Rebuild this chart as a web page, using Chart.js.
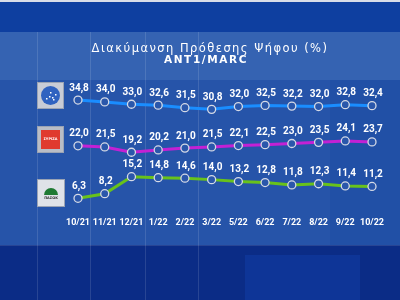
<!DOCTYPE html>
<html>
<head>
<meta charset="utf-8">
<script src="https://cdn.jsdelivr.net/npm/chart.js@4"></script>
<style>
html,body{margin:0;padding:0;background:#2554aa;}
#wrap{width:400px;height:300px;position:relative;}
</style>
</head>
<body>
<div id="wrap"><canvas id="c" width="400" height="300"></canvas></div>
<script>
const months = ['10/21','11/21','12/21','1/22','2/22','3/22','5/22','6/22','7/22','8/22','9/22','10/22'];
const seriesBlue = [34.8,34.0,33.0,32.6,31.5,30.8,32.0,32.5,32.2,32.0,32.8,32.4];
const seriesPurple = [22.0,21.5,19.2,20.2,21.0,21.5,22.1,22.5,23.0,23.5,24.1,23.7];
const seriesGreen = [6.3,8.2,15.2,14.8,14.6,14.0,13.2,12.8,11.8,12.3,11.4,11.2];
const titleText = 'Διακύμανση Πρόθεσης Ψήφου (%)';
const subtitleText = 'ANT1/MARC';

const bgPlugin = {
  id: 'bg',
  beforeDraw(chart) {
    const ctx = chart.ctx;
    ctx.save();
    ctx.fillStyle = '#0e3fa0'; ctx.fillRect(0,0,400,32);
    ctx.fillStyle = '#d8dde8'; ctx.fillRect(0,0,400,2);
    ctx.fillStyle = '#3563b2'; ctx.fillRect(0,32,400,48);
    ctx.fillStyle = '#2654a9'; ctx.fillRect(0,80,400,165);
    ctx.fillStyle = '#2150a6'; ctx.fillRect(330,80,70,165);
    ctx.fillStyle = '#0b2c86'; ctx.fillRect(0,245,400,55);
    ctx.fillStyle = '#0e3597'; ctx.fillRect(245,255,115,45);
    ctx.strokeStyle = 'rgba(255,255,255,0.12)'; ctx.lineWidth = 1;
    [37.5,90.5,145.5,198.5].forEach(x=>{ctx.beginPath();ctx.moveTo(x,32);ctx.lineTo(x,300);ctx.stroke();});
    ctx.beginPath();ctx.moveTo(0,245.5);ctx.lineTo(400,245.5);ctx.stroke();
    // logos (decorative)
    const box = (x,y,w,h,fill)=>{ctx.fillStyle='#9aa3b4';ctx.fillRect(x-1,y-1,w+2,h+2);ctx.fillStyle=fill;ctx.fillRect(x,y,w,h);};
    box(38,83,25,25,'#c8ccd6');
    ctx.fillStyle='#2f62c0';ctx.beginPath();ctx.arc(50.5,95.5,9.5,0,Math.PI*2);ctx.fill();
    ctx.fillStyle='#ffffff';[[46,98],[49,96],[52,97],[55,94],[50,92],[53,99]].forEach(p=>ctx.fillRect(p[0],p[1],1.5,1.5));
    box(38,127,25,25,'#b9bdc6');
    ctx.fillStyle='#e03a2e';ctx.fillRect(41,130,19,19);
    ctx.fillStyle='#ffffff';ctx.font='bold 3.5px "DejaVu Sans"';ctx.textAlign='center';ctx.textBaseline='middle';ctx.fillText('ΣΥΡΙΖΑ',50.5,139);
    box(38,180,26,26,'#dfe2e8');
    ctx.fillStyle='#1f7a33';ctx.beginPath();ctx.arc(51,195,7,Math.PI,0);ctx.fill();
    ctx.fillStyle='#2a2a2a';ctx.font='bold 3.5px "DejaVu Sans"';ctx.fillText('ΠΑΣΟΚ',51,198);
    // title lines
    ctx.fillStyle = '#ffffff';
    ctx.textAlign = 'center';
    ctx.textBaseline = 'middle';
    ctx.font = '11.5px "DejaVu Sans"';
    ctx.letterSpacing = '1.45px';
    ctx.fillText(titleText, 210, 49);
    ctx.font = 'bold 10.5px "DejaVu Sans"';
    ctx.letterSpacing = '1.6px';
    ctx.fillText(subtitleText, 206, 60.5);
    ctx.letterSpacing = '0px';
    ctx.restore();
  },
  afterDatasetsDraw(chart) {
    const ctx = chart.ctx;
    ctx.save();
    ctx.fillStyle = '#ffffff';
    ctx.font = 'bold 10px Roboto';
    ctx.textAlign = 'center';
    ctx.textBaseline = 'middle';
    chart.data.datasets.forEach((ds, i) => {
      const meta = chart.getDatasetMeta(i);
      meta.data.forEach((pt, j) => {
        ctx.fillText(ds.data[j].toFixed(1).replace('.', ','), pt.x + 1, pt.y - 12);
      });
    });
    ctx.restore();
  }
};

const common = {
  borderWidth: 3,
  pointRadius: 4,
  pointBorderWidth: 1.3,
  pointBorderColor: '#d5dae6',
  pointBackgroundColor: '#2a57ab',
  tension: 0,
  clip: false
};

new Chart(document.getElementById('c'), {
  type: 'line',
  data: {
    labels: months,
    datasets: [
      Object.assign({label:'A', data: seriesBlue, borderColor:'#1a8dff', yAxisID:'yBlue'}, common),
      Object.assign({label:'B', data: seriesPurple, borderColor:'#c321d4', yAxisID:'yPurple'}, common),
      Object.assign({label:'C', data: seriesGreen, borderColor:'#68c21b', yAxisID:'yGreen'}, common)
    ]
  },
  options: {
    responsive: false,
    animation: false,
    events: [],
    layout: { padding: { left: 46, right: 28, top: 80, bottom: 63 } },
    plugins: {
      legend: { display: false },
      tooltip: { enabled: false },
      title: { display: false }
    },
    scales: {
      x: {
        grid: { display: false, drawTicks: false },
        border: { display: false },
        ticks: { color: '#ffffff', font: { family: 'Roboto', size: 9, weight: 'bold' }, padding: 7, maxRotation: 0, autoSkip: false },
        afterFit(s) { s.height = 27; }
      },
      yBlue: {
        position: 'left', min: -12.4, max: 43.4,
        grid: { display: false, drawTicks: false }, border: { display: false },
        ticks: { display: false },
        afterFit(s) { s.width = 32; }
      },
      yPurple: { display: false, min: -5.9, max: 50.6 },
      yGreen: { display: false, min: 1.5, max: 55.0 }
    }
  },
  plugins: [bgPlugin]
});
</script>
</body>
</html>
